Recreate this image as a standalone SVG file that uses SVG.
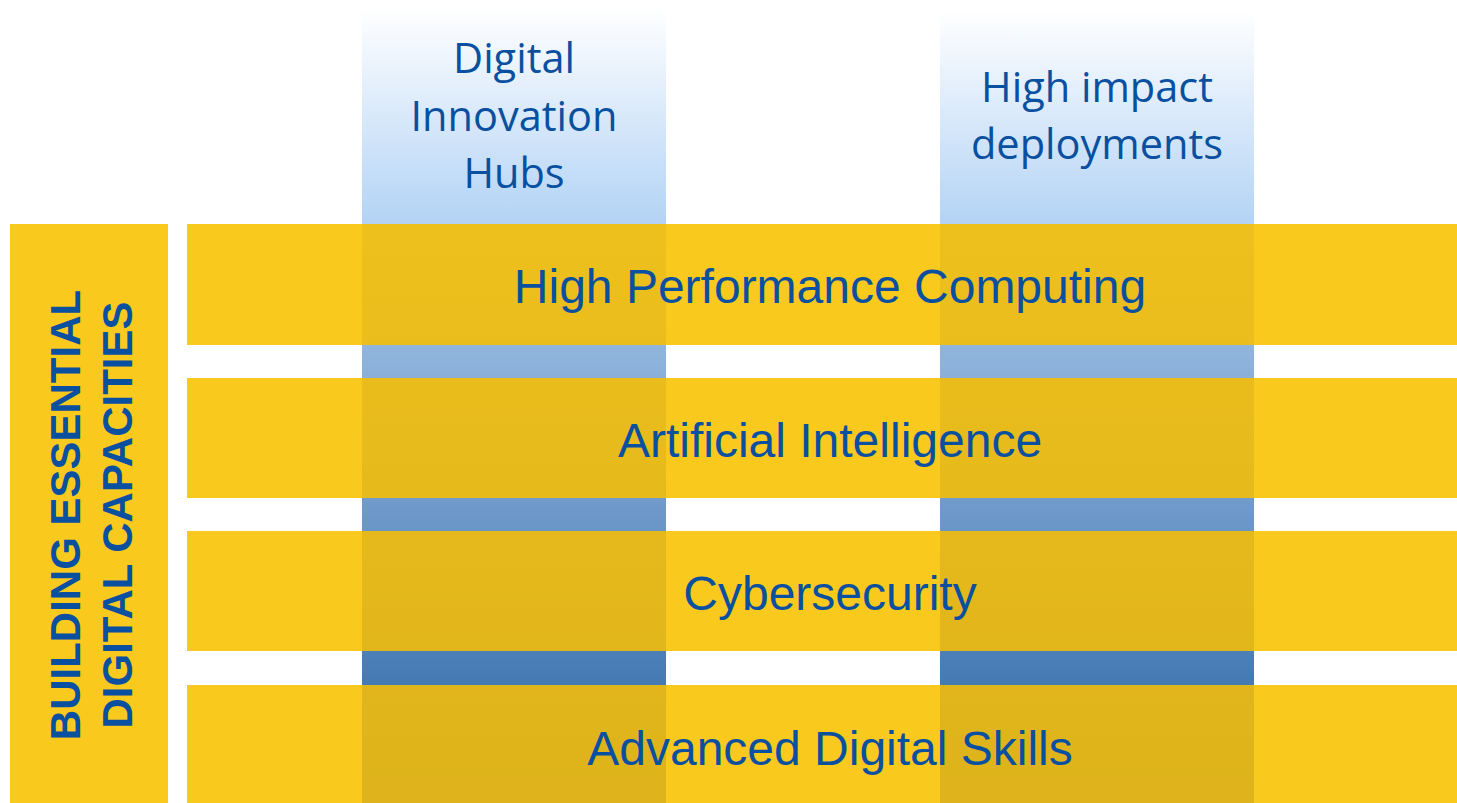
<svg xmlns="http://www.w3.org/2000/svg" width="1457" height="803" viewBox="0 0 1457 803">
<defs>
<linearGradient id="colg" x1="0" y1="0" x2="0" y2="1">
<stop offset="0" stop-color="#ffffff"/>
<stop offset="0.27" stop-color="#b3d3f5"/>
<stop offset="0.5" stop-color="#8db6e5"/>
<stop offset="0.7" stop-color="#6b9dd5"/>
<stop offset="0.86" stop-color="#4a85c5"/>
<stop offset="1" stop-color="#3a78ba"/>
</linearGradient>
<linearGradient id="shade" x1="0" y1="0" x2="0" y2="1">
<stop offset="0" stop-color="#000" stop-opacity="0.045"/>
<stop offset="1" stop-color="#000" stop-opacity="0.11"/>
</linearGradient>
<style>
.row{fill:#f9c91e}
.rowtxt{font-family:"Liberation Sans",Arial,sans-serif;font-size:48px;fill:#0a50a0;text-anchor:middle}
.coltxt{font-family:"Open Sans","Noto Sans",sans-serif;font-size:41.5px;fill:#0a50a0;text-anchor:middle}
.side{font-family:"Liberation Sans",Arial,sans-serif;font-size:42px;font-weight:bold;fill:#0a50a0;text-anchor:middle}
</style>
</defs>
<rect width="1457" height="803" fill="#fff"/>
<g id="col-dih">
<rect x="362" y="8" width="304" height="795" fill="url(#colg)"/>
<text class="coltxt" x="514" y="73">Digital</text>
<text class="coltxt" x="514" y="131">Innovation</text>
<text class="coltxt" x="514" y="188">Hubs</text>
</g>
<g id="col-hid">
<rect x="940" y="10" width="314" height="793" fill="url(#colg)"/>
<text class="coltxt" x="1097" y="102">High impact</text>
<text class="coltxt" x="1097" y="159">deployments</text>
</g>
<g id="side">
<rect x="10" y="224" width="158" height="579" fill="#f9c91e"/>
<text class="side" transform="translate(80,515) rotate(-90)">BUILDING ESSENTIAL</text>
<text class="side" transform="translate(132,515) rotate(-90)">DIGITAL CAPACITIES</text>
</g>
<g id="rows">
<rect class="row" x="187" y="224" width="1270" height="121"/>
<rect class="row" x="187" y="378" width="1270" height="120"/>
<rect class="row" x="187" y="531" width="1270" height="120"/>
<rect class="row" x="187" y="685" width="1270" height="118"/>
</g>
<g id="overlap" fill="url(#shade)">
<rect x="362" y="224" width="304" height="579"/>
<rect x="940" y="224" width="314" height="579"/>
</g>
<g id="labels">
<text class="rowtxt" x="830" y="303">High Performance Computing</text>
<text class="rowtxt" x="830" y="457">Artificial Intelligence</text>
<text class="rowtxt" x="830" y="610">Cybersecurity</text>
<text class="rowtxt" x="830" y="765">Advanced Digital Skills</text>
</g>
</svg>
